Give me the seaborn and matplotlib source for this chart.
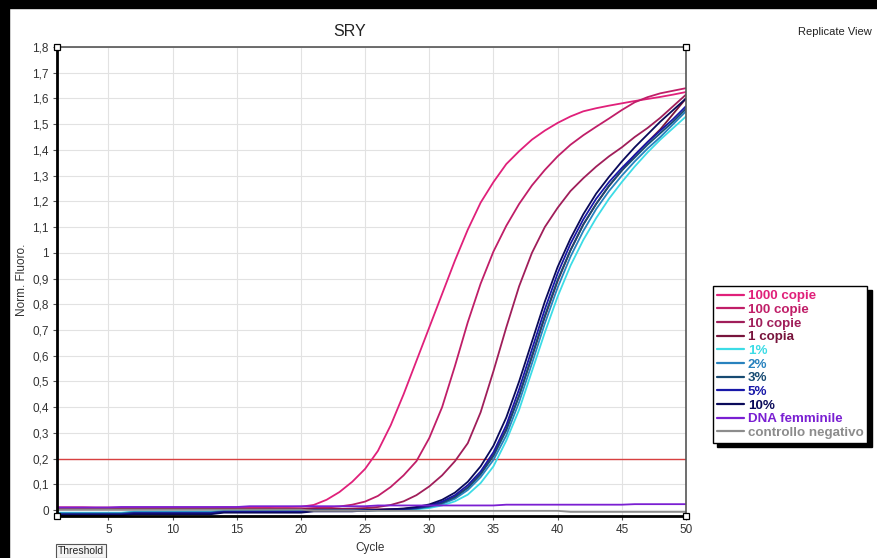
import pandas as pd
import seaborn as sns
import matplotlib.pyplot as plt
from matplotlib.lines import Line2D
from matplotlib.patches import Rectangle
from matplotlib.ticker import FuncFormatter, MultipleLocator

# data (Norm. Fluoro. per cycle)
cycles = list(range(1, 51))

copie_1000 = [0.011, 0.011, 0.011, 0.010, 0.010, 0.010, 0.010, 0.010, 0.010, 0.010,
              0.010, 0.010, 0.010, 0.011, 0.011, 0.011, 0.011, 0.012, 0.012, 0.013,
              0.020, 0.040, 0.070, 0.110, 0.160, 0.230, 0.330, 0.450, 0.580, 0.710,
              0.840, 0.970, 1.090, 1.195, 1.275, 1.345, 1.395, 1.440, 1.475, 1.505,
              1.530, 1.550, 1.562, 1.572, 1.581, 1.590, 1.598, 1.606, 1.615, 1.625]
copie_100 = [0.006, 0.006, 0.005, 0.005, 0.005, 0.006, 0.006, 0.006, 0.006, 0.006,
             0.006, 0.006, 0.006, 0.006, 0.006, 0.006, 0.006, 0.006, 0.006, 0.006,
             0.008, 0.010, 0.014, 0.021, 0.033, 0.055, 0.090, 0.135, 0.190, 0.280,
             0.400, 0.560, 0.730, 0.880, 1.005, 1.105, 1.190, 1.262, 1.322, 1.375,
             1.420, 1.457, 1.490, 1.522, 1.555, 1.585, 1.605, 1.620, 1.630, 1.640]
copie_10 = [0.004, 0.004, 0.004, 0.004, 0.004, 0.004, 0.004, 0.004, 0.004, 0.004,
            0.004, 0.004, 0.004, 0.004, 0.004, 0.004, 0.004, 0.004, 0.004, 0.004,
            0.004, 0.004, 0.005, 0.006, 0.008, 0.012, 0.020, 0.034, 0.058, 0.092,
            0.135, 0.190, 0.260, 0.380, 0.540, 0.710, 0.870, 1.000, 1.100, 1.175,
            1.240, 1.290, 1.335, 1.375, 1.410, 1.450, 1.485, 1.525, 1.570, 1.615]
copia_1 = [0.003, 0.003, 0.003, 0.003, 0.003, 0.003, 0.003, 0.003, 0.003, 0.003,
           0.003, 0.003, 0.003, 0.003, 0.003, 0.003, 0.003, 0.003, 0.003, 0.003,
           0.003, 0.003, 0.003, 0.003, 0.003, 0.003, 0.004, 0.005, 0.009, 0.016,
           0.030, 0.052, 0.088, 0.140, 0.215, 0.315, 0.445, 0.595, 0.750, 0.890,
           1.010, 1.110, 1.190, 1.260, 1.320, 1.380, 1.430, 1.480, 1.540, 1.600]
pct_1 = [-0.010, -0.010, -0.010, -0.010, -0.010, -0.010, -0.006, -0.006, -0.006, -0.006,
         -0.006, -0.006, -0.006, -0.003, -0.003, -0.003, -0.003, -0.003, -0.003, -0.003,
         -0.002, -0.002, -0.002, -0.002, -0.002, -0.001, -0.001, 0.000, 0.003, 0.008,
         0.018, 0.034, 0.060, 0.105, 0.170, 0.270, 0.390, 0.540, 0.690, 0.830,
         0.950, 1.050, 1.135, 1.210, 1.275, 1.335, 1.390, 1.440, 1.485, 1.530]
pct_2 = [-0.012, -0.012, -0.012, -0.012, -0.012, -0.012, -0.008, -0.008, -0.008, -0.008,
         -0.008, -0.008, -0.008, -0.004, -0.004, -0.004, -0.004, -0.004, -0.004, -0.004,
         -0.002, -0.002, -0.002, -0.002, -0.001, 0.000, 0.000, 0.002, 0.005, 0.012,
         0.024, 0.044, 0.078, 0.128, 0.195, 0.290, 0.420, 0.570, 0.725, 0.865,
         0.985, 1.085, 1.170, 1.240, 1.300, 1.355, 1.405, 1.450, 1.500, 1.550]
pct_3 = [-0.015, -0.015, -0.015, -0.015, -0.015, -0.015, -0.011, -0.011, -0.011, -0.011,
         -0.011, -0.011, -0.011, -0.006, -0.006, -0.006, -0.006, -0.006, -0.006, -0.006,
         -0.003, -0.003, -0.003, -0.003, -0.001, 0.000, 0.001, 0.003, 0.007, 0.015,
         0.028, 0.050, 0.087, 0.140, 0.210, 0.310, 0.445, 0.600, 0.755, 0.895,
         1.010, 1.110, 1.190, 1.260, 1.320, 1.370, 1.420, 1.465, 1.510, 1.560]
pct_5 = [-0.017, -0.017, -0.017, -0.017, -0.017, -0.017, -0.012, -0.012, -0.012, -0.012,
         -0.012, -0.012, -0.012, -0.007, -0.007, -0.007, -0.007, -0.007, -0.007, -0.007,
         -0.003, -0.003, -0.003, -0.003, -0.001, 0.001, 0.002, 0.004, 0.009, 0.018,
         0.033, 0.058, 0.097, 0.150, 0.225, 0.330, 0.470, 0.625, 0.780, 0.920,
         1.035, 1.130, 1.210, 1.275, 1.330, 1.380, 1.430, 1.475, 1.520, 1.570]
pct_10 = [-0.020, -0.020, -0.020, -0.020, -0.020, -0.020, -0.016, -0.016, -0.016, -0.016,
          -0.016, -0.016, -0.016, -0.010, -0.010, -0.010, -0.010, -0.010, -0.010, -0.010,
          -0.005, -0.005, -0.005, -0.005, -0.002, 0.000, 0.003, 0.006, 0.012, 0.022,
          0.040, 0.068, 0.110, 0.170, 0.250, 0.360, 0.500, 0.655, 0.810, 0.945,
          1.055, 1.150, 1.230, 1.295, 1.355, 1.410, 1.460, 1.510, 1.555, 1.600]
dna_femminile = [0.010, 0.010, 0.010, 0.010, 0.010, 0.012, 0.012, 0.012, 0.012, 0.012,
                 0.012, 0.012, 0.012, 0.012, 0.012, 0.015, 0.015, 0.015, 0.015, 0.015,
                 0.015, 0.015, 0.015, 0.015, 0.015, 0.018, 0.018, 0.018, 0.018, 0.018,
                 0.018, 0.018, 0.018, 0.018, 0.018, 0.021, 0.021, 0.021, 0.021, 0.021,
                 0.021, 0.021, 0.021, 0.021, 0.021, 0.023, 0.023, 0.023, 0.023, 0.023]
controllo_negativo = [0.002, 0.002, 0.002, 0.002, 0.002, 0.002, 0.002, 0.002, 0.002, 0.002,
                      0.002, 0.002, 0.002, 0.002, 0.002, 0.002, 0.002, 0.002, 0.002, 0.002,
                      -0.003, -0.003, -0.003, -0.003, -0.003, -0.003, -0.003, -0.003, -0.003, -0.003,
                      -0.003, -0.003, -0.003, -0.003, -0.003, -0.003, -0.003, -0.003, -0.003, -0.003,
                      -0.007, -0.007, -0.007, -0.007, -0.007, -0.007, -0.007, -0.007, -0.007, -0.007]

labels = ['1000 copie', '100 copie', '10 copie', '1 copia', '1%', '2%', '3%', '5%', '10%',
          'DNA femminile', 'controllo negativo']
series = [copie_1000, copie_100, copie_10, copia_1, pct_1, pct_2, pct_3, pct_5, pct_10,
          dna_femminile, controllo_negativo]
colors = ['#e0207a', '#c01e68', '#a01e5a', '#78143c', '#3cdce6', '#2882be', '#174a72',
          '#1818a8', '#0a0a5a', '#7a1fd2', '#8c8c8c']
threshold = 0.2

rows = []
for lab, vals in zip(labels, series):
    for c, v in zip(cycles, vals):
        rows.append({'Cycle': c, 'Fluoro': v, 'Sample': lab})
df = pd.DataFrame(rows)

sns.set_style('white')
plt.rcParams['font.family'] = ['Liberation Sans', 'DejaVu Sans']

fig = plt.figure(figsize=(8.77, 5.58), dpi=100)
ax = fig.add_axes([57/877, 1-516/558, (686-57)/877, (516-47)/558])

ax.xaxis.set_major_locator(MultipleLocator(5))
ax.yaxis.set_major_locator(MultipleLocator(0.1))
ax.grid(True, color='#e2e2e2', lw=0.8)
ax.set_axisbelow(True)

sns.lineplot(data=df, x='Cycle', y='Fluoro', hue='Sample', hue_order=labels,
             palette=dict(zip(labels, colors)), estimator=None, sort=False,
             lw=1.3, legend=False, ax=ax)
ax.axhline(threshold, color='#d84040', lw=1.0, zorder=1.5)

ax.set_xlim(1, 50)
ax.set_ylim(-0.023, 1.8)
ax.set_xlabel('')
ax.set_ylabel('')


def fmt_y(v, pos):
    v = round(v, 1)
    if abs(v - round(v)) < 1e-9:
        return str(int(round(v)))
    return f'{v:.1f}'.replace('.', ',')


ax.yaxis.set_major_formatter(FuncFormatter(fmt_y))
ax.xaxis.set_major_formatter(FuncFormatter(lambda v, pos: f'{int(v)}'))
ax.tick_params(axis='both', labelsize=8.5, labelcolor='#333333', length=3, width=0.8,
               color='#555555', direction='out', left=True, bottom=True, pad=3)

for s in ['left', 'bottom']:
    ax.spines[s].set_linewidth(2)
    ax.spines[s].set_color('black')
for s in ['top', 'right']:
    ax.spines[s].set_linewidth(1.2)
    ax.spines[s].set_color('#555555')
ax.plot([0, 1, 0, 1], [1, 1, 0, 0], 's', transform=ax.transAxes, ms=5, mfc='white',
        mec='black', mew=0.9, clip_on=False, zorder=10)

# legend
handles = [Line2D([0], [0], color=c, lw=1.6) for c in colors]
leg = fig.legend(handles, labels, loc='upper left', bbox_to_anchor=(713/877, 1-286/558),
                 borderaxespad=0, prop={'weight': 'bold', 'size': 9.6},
                 labelspacing=0.1, handlelength=2.0, handletextpad=0.3,
                 borderpad=0.3, fancybox=False, framealpha=1,
                 shadow={'ox': 3, 'oy': -3, 'color': 'black', 'alpha': 1})
leg.get_frame().set_edgecolor('black')
leg.get_frame().set_linewidth(1)
for t, c in zip(leg.get_texts(), colors):
    t.set_color(c)

# texts around the plot
fig.text(350/877, 1-31/558, 'SRY', fontsize=11.5, ha='center', va='center', color='#222222')
fig.text(798/877, 1-32/558, 'Replicate View', fontsize=8, ha='left', va='center', color='#222222')
fig.text(370/877, 1-548/558, 'Cycle', fontsize=8.5, ha='center', va='center', color='#333333')
fig.text(22/877, 1-280/558, 'Norm. Fluoro.', fontsize=8.5, ha='center', va='center',
         rotation=90, color='#333333')
fig.text(58/877, 1-551/558, 'Threshold', fontsize=7.5, ha='left', va='center', color='#222222',
         bbox=dict(boxstyle='square,pad=0.2', facecolor='#f4f4f4', edgecolor='#555555', lw=0.8))

# black window frame
fig.patches.append(Rectangle((0, 0), 9/877, 1, transform=fig.transFigure, color='black'))
fig.patches.append(Rectangle((0, 1-8/558), 1, 8/558, transform=fig.transFigure, color='black'))

fig.savefig('out.png', dpi=100)
